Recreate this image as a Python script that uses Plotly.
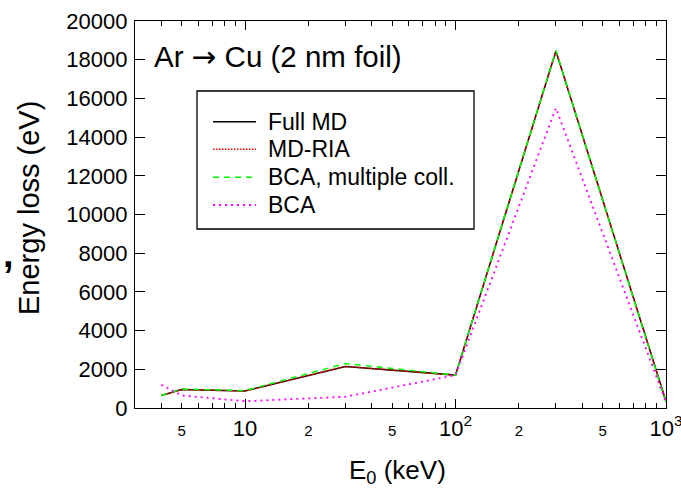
import plotly.graph_objects as go

# Energy loss of Ar ions transmitted through a 2 nm Cu foil
E0 = [4, 5, 10, 30, 100, 300, 1000]           # keV
full_md = [650, 950, 880, 2150, 1700, 18450, 350]
md_ria = [650, 950, 880, 2150, 1700, 18450, 350]
bca_multiple = [650, 980, 900, 2300, 1700, 18480, 300]
bca = [1200, 650, 350, 580, 1700, 15500, 300]

series_names = ["Full MD", "MD-RIA", "BCA, multiple coll.", "BCA"]
series_values = [full_md, md_ria, bca_multiple, bca]
series_lines = [
    dict(color="black", width=1.5),
    dict(color="#ff0000", width=1.5, dash="1.5px,1.5px"),
    dict(color="#00ff00", width=1.5, dash="6px,5px"),
    dict(color="#ff00ff", width=1.8, dash="2px,4px"),
]

x_tick_vals = [5, 10, 20, 50, 100, 200, 500, 1000]
small = "<span style='font-size:15px'>{}</span>"
x_tick_text = [small.format(5), "10", small.format(2), small.format(5),
               "10<sup>2</sup>", small.format(2), small.format(5), "10<sup>3</sup>"]
y_tick_vals = list(range(0, 20001, 2000))
y_tick_text = [str(v) for v in y_tick_vals]

FONT = "Liberation Sans, Arial, Helvetica, sans-serif"

# figure geometry (pixels)
W, H = 681, 489
L, R, T, B = 135, 15, 21, 81
PW, PH = W - L - R, H - T - B


def px_x(px):
    return (px - L) / PW


def px_y(py):
    return (H - B - py) / PH


fig = go.Figure()
for name, vals, ln in zip(series_names, series_values, series_lines):
    fig.add_trace(go.Scatter(x=E0, y=vals, mode="lines", name=name, line=ln))

# decade ticks drawn longer on an overlaid axis
fig.add_trace(go.Scatter(x=[10], y=[None], xaxis="x2", showlegend=False, hoverinfo="skip"))

minor_vals = [m * 10 ** k for k in (0, 1, 2) for m in range(2, 10)]
minor_vals = [v for v in minor_vals if v not in x_tick_vals and 3 <= v <= 1000]

xrange = [0.47712125, 3.0003]
fig.update_layout(
    width=W, height=H,
    margin=dict(l=L, r=R, t=T, b=B, autoexpand=False),
    paper_bgcolor="white", plot_bgcolor="white",
    font=dict(family=FONT, size=22, color="black"),
    showlegend=False,
    xaxis=dict(type="log", range=xrange, showgrid=False, zeroline=False,
               showline=True, linecolor="black", linewidth=1.3, mirror="ticks",
               ticks="inside", ticklen=5, tickwidth=1.2, tickcolor="black",
               tickvals=x_tick_vals, ticktext=x_tick_text,
               ticklabeloverflow="allow", automargin=False,
               tickfont=dict(size=22, family=FONT),
               minor=dict(tickvals=minor_vals, ticks="inside", ticklen=5,
                          tickwidth=1.2, tickcolor="black", showgrid=False)),
    xaxis2=dict(type="log", range=xrange, overlaying="x", side="bottom",
                showgrid=False, zeroline=False, showline=False, automargin=False,
                ticks="inside", ticklen=9, tickwidth=1.2, tickcolor="black",
                tickvals=[10, 100, 1000], showticklabels=False, mirror="ticks"),
    yaxis=dict(range=[0, 20000], showgrid=False, zeroline=False,
               showline=True, linecolor="black", linewidth=1.3, mirror="ticks",
               ticks="inside", ticklen=10, tickwidth=1.2, tickcolor="black",
               tickvals=y_tick_vals, ticktext=y_tick_text, automargin=False,
               ticklabelstandoff=2, tickfont=dict(size=22, family=FONT)),
)

# legend: frame, line samples and labels
fig.add_shape(type="rect", xref="paper", yref="paper",
              x0=px_x(197), x1=px_x(474), y0=px_y(229), y1=px_y(91),
              line=dict(color="black", width=1.3), fillcolor="rgba(0,0,0,0)")
legend_rows = [121.7, 149.3, 177.3, 205.0]
for name, ln, row in zip(series_names, series_lines, legend_rows):
    fig.add_shape(type="line", xref="paper", yref="paper",
                  x0=px_x(213), x1=px_x(256), y0=px_y(row), y1=px_y(row),
                  line=ln)
    fig.add_annotation(text=name, xref="paper", yref="paper", showarrow=False,
                       x=px_x(266), y=px_y(row), xanchor="left", yanchor="middle",
                       font=dict(size=23, family=FONT))

annotations = [
    dict(text="Ar <span style='font-family:DejaVu Sans'>\u2192</span> Cu (2 nm foil)",
         x=px_x(152), y=px_y(57), xanchor="left", yanchor="middle",
         font=dict(size=29.5, family=FONT)),
    dict(text="Energy loss (eV)", x=px_x(29), y=px_y(208), textangle=-90,
         xanchor="center", yanchor="middle", font=dict(size=29, family=FONT)),
    dict(text="E<sub>0</sub> (keV)", x=px_x(397), y=px_y(472),
         xanchor="center", yanchor="middle", font=dict(size=26, family=FONT)),
    dict(text="<b>,</b>", x=px_x(8), y=px_y(254), xanchor="center", yanchor="middle",
         font=dict(size=38, family=FONT)),
]
for a in annotations:
    fig.add_annotation(xref="paper", yref="paper", showarrow=False, **a)

fig.write_html("out.html")
